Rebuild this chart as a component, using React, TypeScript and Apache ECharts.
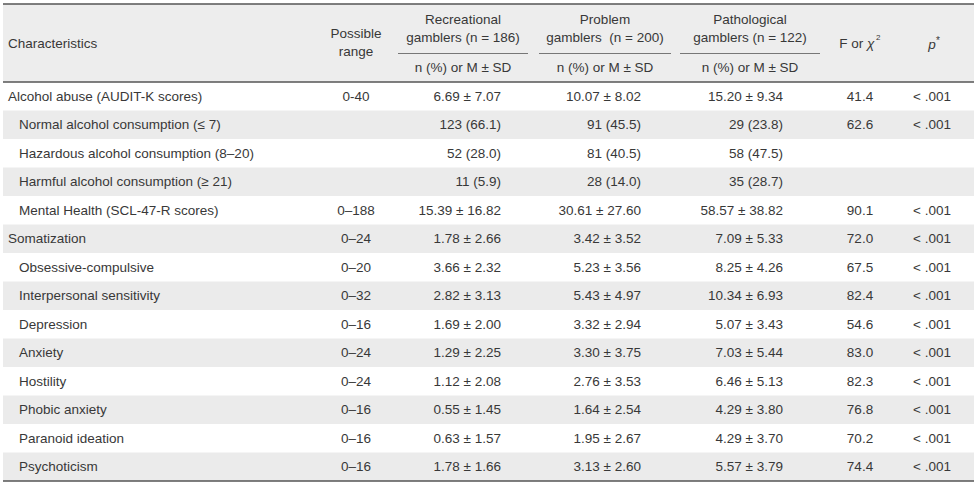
import React, { useEffect, useRef } from "react";
import * as echarts from "echarts";

const characteristics = [
  "Alcohol abuse (AUDIT-K scores)",
  "Normal alcohol consumption (\u2264 7)",
  "Hazardous alcohol consumption (8\u201320)",
  "Harmful alcohol consumption (\u2265 21)",
  "Mental Health (SCL-47-R scores)",
  "Somatization",
  "Obsessive-compulsive",
  "Interpersonal sensitivity",
  "Depression",
  "Anxiety",
  "Hostility",
  "Phobic anxiety",
  "Paranoid ideation",
  "Psychoticism",
];
const indentLevels = [0, 1, 1, 1, 1, 0, 1, 1, 1, 1, 1, 1, 1, 1];
const possibleRanges = ["0-40", "", "", "", "0\u2013188", "0\u201324", "0\u201320", "0\u201332", "0\u201316", "0\u201324", "0\u201324", "0\u201316", "0\u201316", "0\u201316"];
const recreational = ["6.69 \u00b1 7.07", "123 (66.1)", "52 (28.0)", "11 (5.9)", "15.39 \u00b1 16.82", "1.78 \u00b1 2.66", "3.66 \u00b1 2.32", "2.82 \u00b1 3.13", "1.69 \u00b1 2.00", "1.29 \u00b1 2.25", "1.12 \u00b1 2.08", "0.55 \u00b1 1.45", "0.63 \u00b1 1.57", "1.78 \u00b1 1.66"];
const problem = ["10.07 \u00b1 8.02", "91 (45.5)", "81 (40.5)", "28 (14.0)", "30.61 \u00b1 27.60", "3.42 \u00b1 3.52", "5.23 \u00b1 3.56", "5.43 \u00b1 4.97", "3.32 \u00b1 2.94", "3.30 \u00b1 3.75", "2.76 \u00b1 3.53", "1.64 \u00b1 2.54", "1.95 \u00b1 2.67", "3.13 \u00b1 2.60"];
const pathological = ["15.20 \u00b1 9.34", "29 (23.8)", "58 (47.5)", "35 (28.7)", "58.57 \u00b1 38.82", "7.09 \u00b1 5.33", "8.25 \u00b1 4.26", "10.34 \u00b1 6.93", "5.07 \u00b1 3.43", "7.03 \u00b1 5.44", "6.46 \u00b1 5.13", "4.29 \u00b1 3.80", "4.29 \u00b1 3.70", "5.57 \u00b1 3.79"];
const fValues = ["41.4", "62.6", "", "", "90.1", "72.0", "67.5", "82.4", "54.6", "83.0", "82.3", "76.8", "70.2", "74.4"];
const pValues = ["< .001", "< .001", "", "", "< .001", "< .001", "< .001", "< .001", "< .001", "< .001", "< .001", "< .001", "< .001", "< .001"];
const groupTitles = ["Recreational", "Problem", "Pathological"];
const groupSubtitles = ["gamblers (n = 186)", "gamblers  (n = 200)", "gamblers (n = 122)"];
const groupStatLabel = "n (%) or M \u00b1 SD";

const FONT = "'Liberation Sans', Arial, sans-serif";
const TEXT_COLOR = "#383838";
const FS = 13.5;

function txt(text: string, x: number, y: number, align: string, extra: any = {}) {
  return {
    type: "text",
    x,
    y,
    silent: true,
    style: {
      text,
      fill: TEXT_COLOR,
      fontSize: FS,
      fontFamily: FONT,
      align,
      verticalAlign: "middle",
      textAlign: align,
      textVerticalAlign: "middle",
      ...extra,
    },
  };
}

export default function App() {
  const ref = useRef<HTMLDivElement>(null);
  useEffect(() => {
    if (!ref.current) return;
    const chart = echarts.init(ref.current, null, { renderer: "svg" });
    const L = 3;
    const R = 974;
    const tableTop = 4;
    const headerBottom = 82;
    const rowH = 28.5;
    const rowCenter = (i: number) => headerBottom + rowH * i + rowH / 2;
    const groupCenters = [463, 605, 750];
    const groupHalf = [65, 66, 70];
    const valueRight = [501, 641, 783];
    const rangeX = 356;
    const fX = 860;
    const pX = 932;

    const elements: any[] = [];
    elements.push({ type: "rect", silent: true, shape: { x: L, y: tableTop, width: R - L, height: headerBottom - tableTop }, style: { fill: "#ededed" } });
    characteristics.forEach((_, i) => {
      if (i % 2 === 1) {
        elements.push({ type: "rect", silent: true, shape: { x: L, y: headerBottom + rowH * i, width: R - L, height: rowH }, style: { fill: "#ebebeb" } });
      }
    });
    elements.push({ type: "line", silent: true, shape: { x1: L, y1: tableTop, x2: R, y2: tableTop }, style: { stroke: "#555", lineWidth: 1.5 } });
    elements.push({ type: "line", silent: true, shape: { x1: L, y1: headerBottom, x2: R, y2: headerBottom }, style: { stroke: "#555", lineWidth: 1.3 } });
    elements.push({ type: "line", silent: true, shape: { x1: L, y1: headerBottom + rowH * characteristics.length, x2: R, y2: headerBottom + rowH * characteristics.length }, style: { stroke: "#555", lineWidth: 1.5 } });

    elements.push(txt("Characteristics", 8, 43, "left"));
    elements.push(txt("Possible", rangeX, 33, "center"));
    elements.push(txt("range", rangeX, 51, "center"));
    groupTitles.forEach((t, g) => {
      const cx = groupCenters[g];
      elements.push(txt(t, cx, 19, "center"));
      elements.push(txt(groupSubtitles[g], cx, 37, "center"));
      elements.push({ type: "line", silent: true, shape: { x1: cx - groupHalf[g], y1: 53.5, x2: cx + groupHalf[g], y2: 53.5 }, style: { stroke: "#777", lineWidth: 1 } });
      elements.push(txt(groupStatLabel, cx, 67, "center"));
    });
    elements.push(txt("F or ", fX + 7, 43, "right"));
    elements.push(txt("\u03c7", fX + 7, 43, "left", { fontStyle: "italic" }));
    elements.push(txt("2", fX + 16, 37, "left", { fontSize: 8 }));
    elements.push(txt("p", pX, 44, "center", { fontStyle: "italic" }));
    elements.push(txt("*", pX + 4, 40, "left", { fontSize: 10 }));

    characteristics.forEach((c, i) => {
      const y = rowCenter(i);
      elements.push(txt(c, indentLevels[i] ? 19 : 8, y, "left"));
      if (possibleRanges[i]) elements.push(txt(possibleRanges[i], rangeX, y, "center"));
      [recreational, problem, pathological].forEach((arr, g) => {
        if (arr[i]) elements.push(txt(arr[i], valueRight[g], y, "right"));
      });
      if (fValues[i]) elements.push(txt(fValues[i], fX, y, "center"));
      if (pValues[i]) elements.push(txt(pValues[i], pX, y, "center"));
    });

    chart.setOption({
      animation: false,
      backgroundColor: "#ffffff",
      graphic: { elements },
    });
    return () => chart.dispose();
  }, []);
  return <div ref={ref} style={{ position: "fixed", left: 0, top: 0, width: 977, height: 485 }} />;
}
